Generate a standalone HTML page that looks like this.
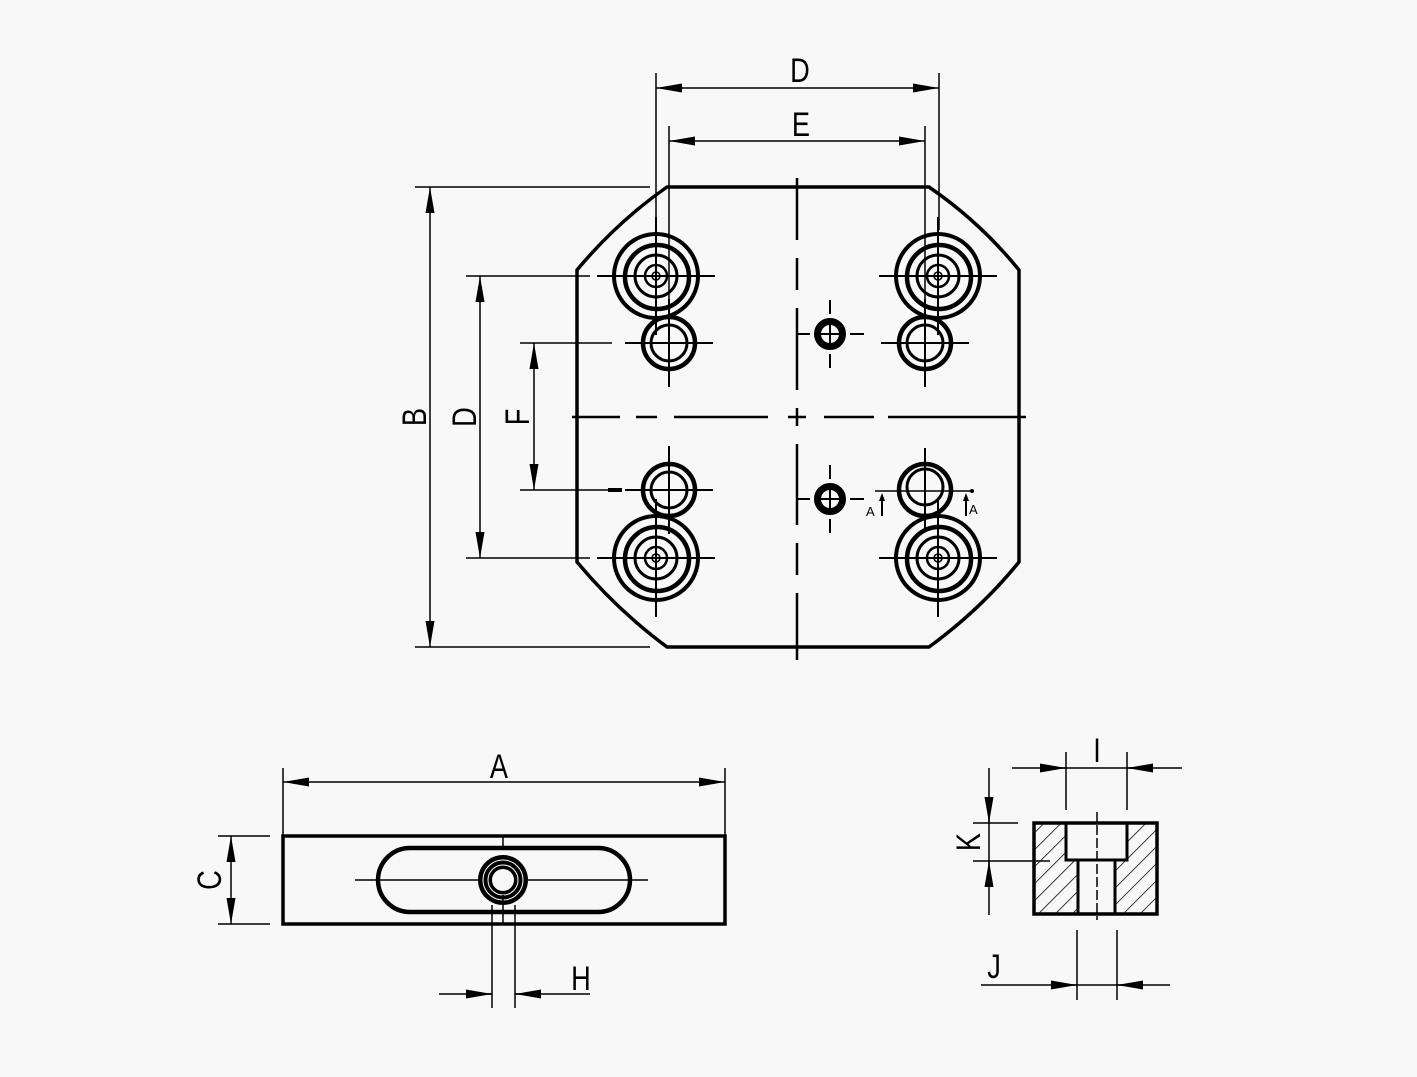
<!DOCTYPE html>
<html><head><meta charset="utf-8"><style>
html,body{margin:0;padding:0;background:#f8f8f8;}
svg{display:block;}
text{font-family:"Liberation Sans",sans-serif;font-size:34px;fill:#000;}
</style></head><body>
<svg width="1417" height="1077" viewBox="0 0 1417 1077" xmlns="http://www.w3.org/2000/svg">
<defs>
<marker id="ar" viewBox="0 0 26 10" refX="26" refY="5" markerWidth="26" markerHeight="10" markerUnits="userSpaceOnUse" orient="auto-start-reverse">
<path d="M26,5 L0,0.5 L0,9.5 Z" fill="#000"/></marker>
<g id="big" fill="none" stroke="#000">
<circle r="42" stroke-width="4"/>
<circle cx="1" cy="1" r="32" stroke-width="4.5"/>
<circle r="21" stroke-width="3"/>
<circle r="11" stroke-width="2.5"/>
<circle r="4" stroke-width="1.5"/>
<path d="M-59,0H59M0,-59V59" stroke-width="2"/>
</g>
<g id="sm" fill="none" stroke="#000">
<circle r="26" stroke-width="4.5"/>
<circle r="18" stroke-width="3"/>
<path d="M-44,0H44M0,-44V44" stroke-width="2"/>
</g>
<g id="dw" fill="none" stroke="#000">
<circle r="12.5" stroke-width="7"/>
<path d="M-9,0H9M0,-9V9" stroke-width="2"/>
<path d="M-34,0H-20M20,0H34M0,-34V-20M0,20V34" stroke-width="2"/>
</g>
<pattern id="hat" patternUnits="userSpaceOnUse" width="12" height="12" patternTransform="rotate(45)"><line x1="0" y1="0" x2="0" y2="12" stroke="#000" stroke-width="1.5"/></pattern>
</defs>

<!-- plate -->
<path d="M667,187 L929,187 Q980,222 1019,270 L1019,562 Q980,610 929,647 L667,647 Q617,610 577,562 L577,270 Q617,222 667,187 Z" fill="none" stroke="#000" stroke-width="3.5"/>
<path d="M797,178V240M797,258V290M797,308V390M797,408V426M797,444V525M797,543V575M797,593V660" stroke="#000" stroke-width="2.5"/>
<path d="M572,417H620M636,417H657M674,417H768M788,417H806M824,417H874M888,417H1026" stroke="#000" stroke-width="2.5"/>

<use href="#big" x="656" y="276"/>
<use href="#big" x="938" y="276"/>
<use href="#big" x="656" y="558"/>
<use href="#big" x="938" y="558"/>
<use href="#sm" x="669" y="343"/>
<use href="#sm" x="925" y="343"/>
<use href="#sm" x="669" y="490"/>
<g fill="none" stroke="#000"><circle cx="925" cy="490" r="26" stroke-width="4.5"/><circle cx="925" cy="487" r="18" stroke-width="3"/><path d="M925,448V532" stroke-width="2"/></g>
<use href="#dw" x="830" y="334"/>
<use href="#dw" x="830" y="499"/>
<path d="M608,490H622" stroke="#000" stroke-width="4"/>
<path d="M875,491H972" stroke="#000" stroke-width="1.5"/>
<circle cx="972" cy="491" r="2" fill="#000"/>
<path d="M882,516V500M966,516V500" stroke="#000" stroke-width="2"/>
<path d="M882,493l-3,8h6zM966,493l-3,8h6z" fill="#000"/>
<text x="866" y="516" style="font-size:13px">A</text>
<text x="969" y="514" style="font-size:13px">A</text>

<g stroke="#000" stroke-width="1.5" fill="none">
<path d="M656,73V230M939,73V230M669,126V300M925,126V300"/>
<path d="M656,88H939" marker-start="url(#ar)" marker-end="url(#ar)"/>
<path d="M669,141H925" marker-start="url(#ar)" marker-end="url(#ar)"/>
<path d="M415,187H650M415,647H650M466,276H590M466,558H590M520,343H612M520,490H622"/>
<path d="M430,187V647" marker-start="url(#ar)" marker-end="url(#ar)"/>
<path d="M480,276V558" marker-start="url(#ar)" marker-end="url(#ar)"/>
<path d="M534,343V490" marker-start="url(#ar)" marker-end="url(#ar)"/>
</g>
<text x="800" y="82" text-anchor="middle" transform="translate(800,0) scale(0.8,1) translate(-800,0)">D</text>
<text x="801" y="136" text-anchor="middle" transform="translate(801,0) scale(0.8,1) translate(-801,0)">E</text>
<text transform="translate(426,417) rotate(-90) scale(0.8,1)" text-anchor="middle">B</text>
<text transform="translate(476,417) rotate(-90) scale(0.8,1)" text-anchor="middle">D</text>
<text transform="translate(529,417) rotate(-90) scale(0.8,1)" text-anchor="middle">F</text>

<rect x="283" y="836" width="442" height="88" fill="none" stroke="#000" stroke-width="3.5"/>
<rect x="378" y="848" width="252" height="64" rx="32" fill="none" stroke="#000" stroke-width="4.5"/>
<path d="M355,880H648" stroke="#000" stroke-width="1.5"/>
<circle cx="503" cy="880" r="25" fill="#000"/>
<circle cx="503" cy="880" r="20" fill="none" stroke="#fff" stroke-width="1"/>
<circle cx="503" cy="880" r="15" fill="none" stroke="#fff" stroke-width="1"/>
<circle cx="503" cy="880" r="11" fill="#f8f8f8"/>
<path d="M503,836V848M503,895V924M492,905V1008M515,905V1008" stroke="#000" stroke-width="1.5"/>
<g stroke="#000" stroke-width="1.5" fill="none">
<path d="M283,768V836M725,768V836"/>
<path d="M283,782H725" marker-start="url(#ar)" marker-end="url(#ar)"/>
<path d="M218,836H270M218,924H270"/>
<path d="M231,836V924" marker-start="url(#ar)" marker-end="url(#ar)"/>
<path d="M439,994H492M515,994H590"/>
<path d="M466,994H492" marker-end="url(#ar)"/>
<path d="M515,994H541" marker-start="url(#ar)"/>
</g>
<text x="499" y="778" text-anchor="middle" transform="translate(499,0) scale(0.8,1) translate(-499,0)">A</text>
<text transform="translate(221,880) rotate(-90) scale(0.8,1)" text-anchor="middle">C</text>
<text x="581" y="990" text-anchor="middle" transform="translate(581,0) scale(0.8,1) translate(-581,0)">H</text>

<path d="M1034,823H1066V860H1078V914H1034Z" fill="url(#hat)"/>
<path d="M1127,823H1157V914H1115V860H1127Z" fill="url(#hat)"/>
<rect x="1034" y="823" width="123" height="91" fill="none" stroke="#000" stroke-width="3.5"/>
<path d="M1066,823V860H1127V823M1078,860V914M1115,860V914" fill="none" stroke="#000" stroke-width="3"/>
<path d="M1097,812V920" stroke="#000" stroke-width="1.5" stroke-dasharray="10 3"/>
<g stroke="#000" stroke-width="1.5" fill="none">
<path d="M1066,752V810M1127,752V810"/>
<path d="M1012,768H1182"/>
<path d="M1040,768H1066" marker-end="url(#ar)"/>
<path d="M1127,768H1153" marker-start="url(#ar)"/>
<path d="M973,823H1018M973,861H1050"/>
<path d="M989,768V915"/>
<path d="M989,797V823" marker-end="url(#ar)"/>
<path d="M989,861V887" marker-start="url(#ar)"/>
<path d="M1077,930V1000M1117,930V1000"/>
<path d="M981,985H1170"/>
<path d="M1051,985H1077" marker-end="url(#ar)"/>
<path d="M1117,985H1143" marker-start="url(#ar)"/>
</g>
<text x="1097" y="762" text-anchor="middle" transform="translate(1097,0) scale(0.8,1) translate(-1097,0)">I</text>
<text transform="translate(980,842) rotate(-90) scale(0.8,1)" text-anchor="middle">K</text>
<text x="994" y="978" text-anchor="middle" transform="translate(994,0) scale(0.8,1) translate(-994,0)">J</text>
</svg>
</body></html>
